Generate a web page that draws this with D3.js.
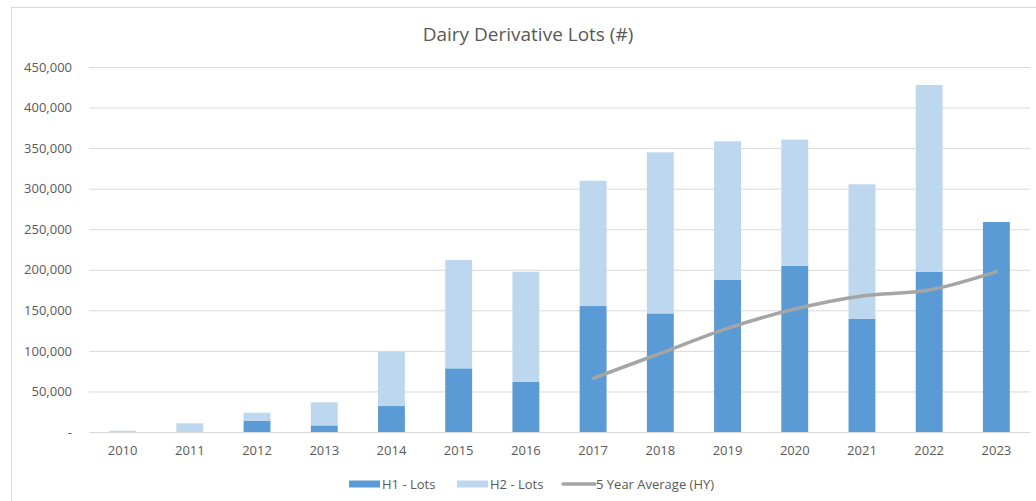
<!DOCTYPE html>
<html>
<head>
<meta charset="utf-8">
<script src="https://cdn.jsdelivr.net/npm/d3@7/dist/d3.min.js"></script>
<style>
  html, body { margin: 0; padding: 0; background: #fff; }
  svg { display: block; }
  text { font-family: "Open Sans", "Noto Sans", sans-serif; fill: #595959; }
</style>
</head>
<body>
<svg id="chart" width="1036" height="501"></svg>
<script>
// Dairy derivative lots traded per half year
const years = ["2010","2011","2012","2013","2014","2015","2016","2017","2018","2019","2020","2021","2022","2023"];
const h1Lots = [0, 0, 14000, 8200, 32000, 78500, 62000, 155300, 146300, 187400, 204700, 139300, 197600, 258900];
const h2Lots = [1500, 10700, 9800, 28400, 67000, 133500, 135600, 154500, 198500, 171000, 155700, 166100, 230200, 0];
const avgYears = ["2017","2018","2019","2020","2021","2022","2023"];
const avgLots = [66200, 97000, 127800, 151600, 167700, 175000, 197700];
const yTicks = [0, 50000, 100000, 150000, 200000, 250000, 300000, 350000, 400000, 450000];

const svg = d3.select("#chart");
const margin = { left: 89, right: 1030, top: 67, bottom: 432 };

const x = d3.scaleBand()
  .domain(years)
  .range([margin.left, margin.right])
  .paddingInner(0.6)
  .paddingOuter(0.3);

const y = d3.scaleLinear()
  .domain([0, 450000])
  .range([margin.bottom, margin.top]);

// outer chart frame
svg.append("rect")
  .attr("x", 11.5).attr("y", 7.5)
  .attr("width", 1040).attr("height", 520)
  .attr("fill", "#fff")
  .attr("stroke", "#d9d9d9");

// title
svg.append("text")
  .attr("x", 528).attr("y", 41)
  .attr("text-anchor", "middle")
  .style("font-size", "19px")
  .text("Dairy Derivative Lots (#)");

// horizontal gridlines and y labels
const fmt = d3.format(",");
const yAxis = d3.axisLeft(y)
  .tickValues(yTicks)
  .tickSize(-(margin.right - margin.left))
  .tickPadding(17)
  .tickFormat(d => d === 0 ? "-  " : fmt(d));

const gy = svg.append("g")
  .attr("transform", `translate(${margin.left},0)`)
  .call(yAxis);
gy.select(".domain").remove();
gy.selectAll(".tick line").attr("stroke", "#d9d9d9");
gy.selectAll(".tick text")
  .style("font-size", "13px")
  .attr("fill", "#595959");

// category axis labels
const xAxis = d3.axisBottom(x).tickSize(0).tickPadding(14);
const gx = svg.append("g")
  .attr("transform", `translate(0,${margin.bottom})`)
  .call(xAxis);
gx.select(".domain").remove();
gx.selectAll(".tick text")
  .style("font-size", "13px")
  .attr("fill", "#595959");

// stacked bars
const rows = years.map((yr, i) => ({ year: yr, h1: h1Lots[i], h2: h2Lots[i] }));
const stack = d3.stack().keys(["h1", "h2"]);
const series = stack(rows);
const colors = { h1: "#5b9bd5", h2: "#bdd7ee" };

svg.append("g")
  .selectAll("g")
  .data(series)
  .join("g")
  .attr("fill", d => colors[d.key])
  .selectAll("rect")
  .data(d => d)
  .join("rect")
  .attr("x", d => x(d.data.year))
  .attr("width", x.bandwidth())
  .attr("y", d => y(d[1]))
  .attr("height", d => y(d[0]) - y(d[1]));

// five year average line
const line = d3.line()
  .x((d, i) => x(avgYears[i]) + x.bandwidth() / 2)
  .y(d => y(d))
  .curve(d3.curveCatmullRom.alpha(0));

svg.append("path")
  .datum(avgLots)
  .attr("fill", "none")
  .attr("stroke", "#a5a5a5")
  .attr("stroke-width", 3.5)
  .attr("stroke-linecap", "round")
  .attr("d", line);

// legend
const legend = svg.append("g").attr("transform", "translate(0,484)");
const items = [
  { label: "H1 - Lots", type: "bar", color: colors.h1, x: 349 },
  { label: "H2 - Lots", type: "bar", color: colors.h2, x: 457 },
  { label: "5 Year Average (HY)", type: "line", color: "#a5a5a5", x: 563 }
];
items.forEach(it => {
  if (it.type === "bar") {
    legend.append("rect")
      .attr("x", it.x).attr("y", -3.5)
      .attr("width", 31).attr("height", 7)
      .attr("fill", it.color);
  } else {
    legend.append("line")
      .attr("x1", it.x).attr("x2", it.x + 32)
      .attr("y1", 0).attr("y2", 0)
      .attr("stroke", it.color)
      .attr("stroke-width", 3.5)
      .attr("stroke-linecap", "round");
  }
  legend.append("text")
    .attr("x", it.x + 33).attr("y", 0)
    .attr("dy", "0.35em")
    .style("font-size", "13px")
    .text(it.label);
});
</script>
</body>
</html>
